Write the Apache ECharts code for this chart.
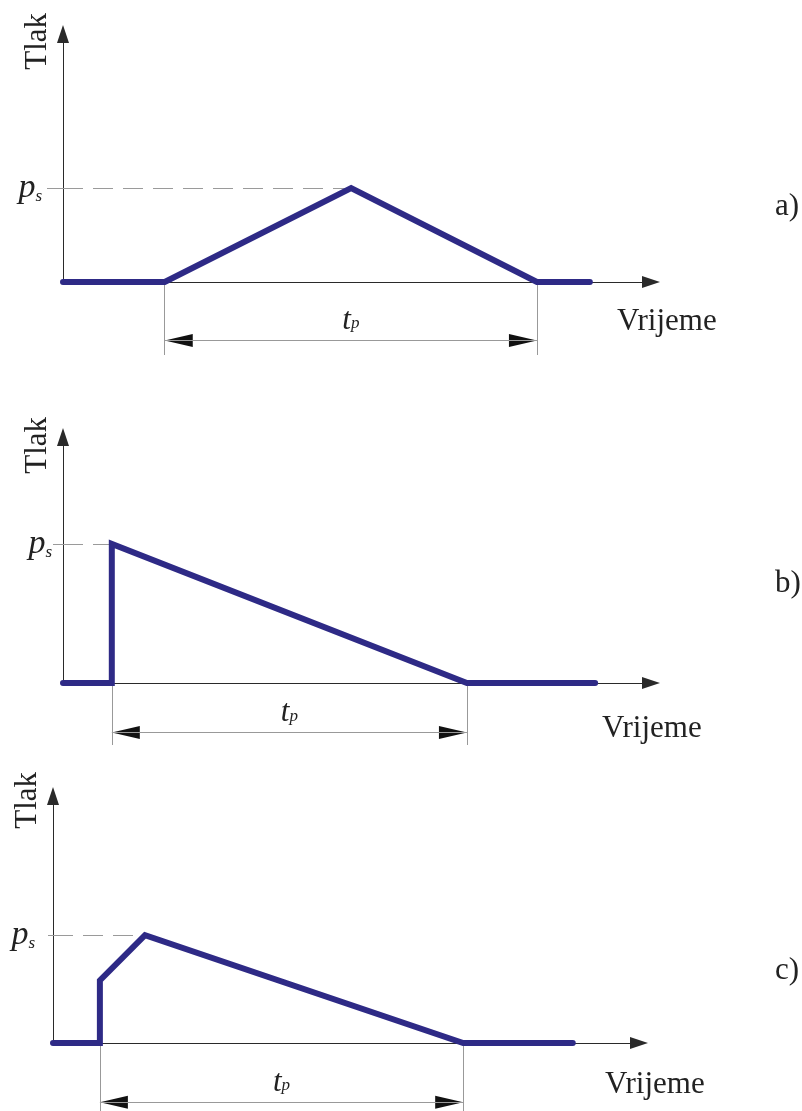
<!DOCTYPE html>
<html>
<head>
<meta charset="utf-8">
<title>Tlak - vrijeme</title>
<script src="https://cdn.jsdelivr.net/npm/echarts@6/dist/echarts.min.js"></script>
<style>
  html, body { margin: 0; padding: 0; background: #fff; }
  #chart { width: 802px; height: 1111px; }
</style>
</head>
<body>
<div id="chart"></div>
<script>
// oznake slucajeva
var panelNames = ["a)", "b)", "c)"];
// lomne tocke krivulje tlaka (tlak u jedinicama p_s)
var timeA = [0, 17.3, 49, 80.6, 89.6];
var pressA = [0, 0, 1, 0, 0];
var timeB = [0, 8.3, 8.3, 68.7, 90.5];
var pressB = [0, 0, 1, 0, 0];
var timeC = [0, 8, 8, 15.7, 70, 88.7];
var pressC = [0, 0, 0.58, 1, 0, 0];
// trajanje pozitivne faze t_p (pocetak, kraj)
var tpA = [17.3, 80.6];
var tpB = [8.3, 68.7];
var tpC = [8, 70];
var psValue = 1;
var timeMax = 100;
var yMaxA = 2.64, yMaxB = 1.77, yMaxC = 2.29;

var serif = "'Liberation Serif', 'DejaVu Serif', serif";
var lineColor = "#2e2a86";
var textColor = "#222";

var panels = [
  { time: timeA, press: pressA, tp: tpA, yMax: yMaxA },
  { time: timeB, press: pressB, tp: tpB, yMax: yMaxB },
  { time: timeC, press: pressC, tp: tpC, yMax: yMaxC }
];
// raspored (pikseli)
var layout = [
  { left: 63, top: 34, width: 588, height: 248, dimH: 73, tlakGap: 21, nameGap: -34, namePad: 24, labelMargin: 21, tickLen: 16, tagTop: 191 },
  { left: 63, top: 437, width: 588, height: 246, dimH: 62, tlakGap: 20, nameGap: -49, namePad: 30, labelMargin: 11, tickLen: 10, tagTop: 568 },
  { left: 53, top: 796, width: 586, height: 247, dimH: 74, tlakGap: 24, nameGap: -34, namePad: 26, labelMargin: 18, tickLen: 5, tagTop: 955 }
];
var dimLevel = 0.2;

var grids = [], xAxes = [], yAxes = [], series = [], titles = [];

panels.forEach(function (p, i) {
  var L = layout[i];
  var g = 2 * i;
  grids.push({ left: L.left, top: L.top, width: L.width, height: L.height, outerBoundsMode: "none" });
  grids.push({ left: L.left, top: L.top + L.height, width: L.width, height: L.dimH, outerBoundsMode: "none" });

  xAxes.push({
    gridIndex: g, type: "value", min: 0, max: timeMax,
    name: "Vrijeme", nameLocation: "end", nameGap: L.nameGap,
    nameTextStyle: {
      fontFamily: serif, fontSize: 31, color: textColor,
      align: "left", verticalAlign: "top", padding: [L.namePad, 0, 0, 0]
    },
    axisLine: { lineStyle: { color: "#2a2a2a", width: 1 }, symbol: ["none", "triangle"], symbolSize: [12, 18] },
    axisTick: { show: false },
    axisLabel: { show: false },
    splitLine: { show: false }
  });
  xAxes.push({ gridIndex: g + 1, type: "value", min: 0, max: timeMax, show: false });

  yAxes.push({
    gridIndex: g, type: "value", min: 0, max: p.yMax,
    name: "Tlak", nameLocation: "end", nameRotate: 90, nameGap: L.tlakGap,
    nameTextStyle: {
      fontFamily: serif, fontSize: 31, color: textColor,
      align: "right", verticalAlign: "bottom", padding: [0, 0, 10, 0]
    },
    axisLine: { lineStyle: { color: "#2a2a2a", width: 1 }, symbol: ["none", "triangle"], symbolSize: [12, 18] },
    axisTick: { show: true, customValues: [psValue], length: L.tickLen, lineStyle: { color: "#9a9a9a" } },
    axisLabel: {
      show: true, customValues: [psValue], margin: L.labelMargin,
      formatter: function () { return "{p|p}{s|s}"; },
      rich: {
        p: { fontFamily: serif, fontStyle: "italic", fontSize: 34, color: textColor, verticalAlign: "bottom" },
        s: { fontFamily: serif, fontStyle: "italic", fontSize: 17, color: textColor, verticalAlign: "bottom" }
      }
    },
    splitLine: { show: false }
  });
  yAxes.push({ gridIndex: g + 1, type: "value", min: 0, max: 1, show: false });

  var peakTime = p.time[p.press.indexOf(psValue)];

  // krivulja tlaka
  series.push({
    type: "line", xAxisIndex: g, yAxisIndex: g,
    data: p.time.map(function (t, k) { return [t, p.press[k]]; }),
    symbol: "none", clip: false, z: 5,
    lineStyle: { color: lineColor, width: 6, cap: "round", join: "miter" },
    markLine: {
      silent: true, symbol: ["none", "none"], label: { show: false },
      lineStyle: { color: "#9a9a9a", width: 1, type: [20, 10] },
      data: [[{ coord: [0, psValue] }, { coord: [peakTime, psValue] }]]
    }
  });

  // kota t_p
  series.push({
    type: "scatter", xAxisIndex: g + 1, yAxisIndex: g + 1,
    symbol: "triangle", symbolSize: [13, 28],
    itemStyle: { color: "#111", opacity: 1 }, silent: true, clip: false,
    data: [
      { value: [p.tp[0], dimLevel], symbolRotate: 90, symbolOffset: [14, 0] },
      { value: [p.tp[1], dimLevel], symbolRotate: -90, symbolOffset: [-14, 0] }
    ],
    markLine: {
      silent: true, symbol: ["none", "none"],
      lineStyle: { color: "#999", width: 1, type: "solid" },
      label: { show: false },
      data: [
        [{ coord: [p.tp[0], 1] }, { coord: [p.tp[0], 0] }],
        [{ coord: [p.tp[1], 1] }, { coord: [p.tp[1], 0] }],
        [{
          coord: [p.tp[0], dimLevel],
          label: {
            show: true, position: "middle", distance: 4,
            formatter: "{t|t}{p|p}",
            rich: {
              t: { fontFamily: serif, fontStyle: "italic", fontSize: 31, color: textColor, verticalAlign: "bottom" },
              p: { fontFamily: serif, fontStyle: "italic", fontSize: 17, color: textColor, verticalAlign: "bottom", padding: [0, 0, 4, 0] }
            }
          }
        }, { coord: [p.tp[1], dimLevel] }]
      ]
    }
  });

  titles.push({
    text: panelNames[i], left: 775, top: L.tagTop, padding: 0,
    textStyle: { fontFamily: serif, fontSize: 31, fontWeight: "normal", color: textColor }
  });
});

var chart = echarts.init(document.getElementById("chart"));
chart.setOption({
  animation: false,
  backgroundColor: "#fff",
  title: titles,
  grid: grids,
  xAxis: xAxes,
  yAxis: yAxes,
  series: series
});
</script>
</body>
</html>
